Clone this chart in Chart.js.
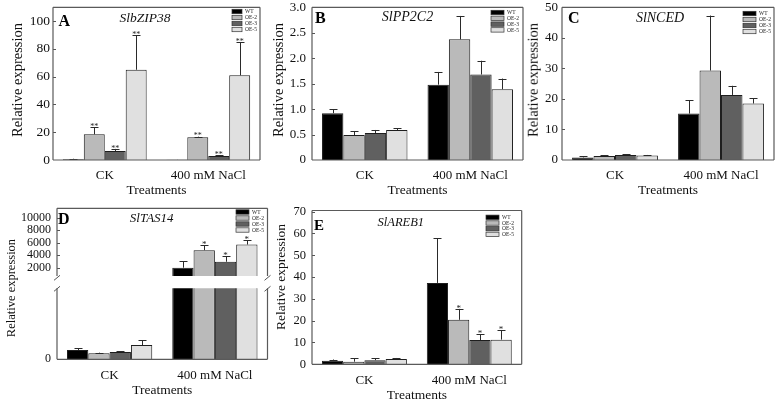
<!DOCTYPE html>
<html><head><meta charset="utf-8">
<script src="https://cdn.jsdelivr.net/npm/chart.js@4"></script>
<style>
html,body{margin:0;padding:0;background:#fff;}
#wrap{position:relative;width:779px;height:403px;overflow:hidden;background:#fff;}
canvas{position:absolute;}
.yt{position:absolute;transform:translate(-50%,-50%) rotate(-90deg);white-space:nowrap;font-family:'Liberation Serif','Times New Roman',serif;line-height:1;color:#111;}
</style></head><body><div id="wrap"></div>
<script>
// ---------- data ----------
const categories = ['CK', '400 mM NaCl'];
const seriesNames = ['WT', 'OE-2', 'OE-3', 'OE-5'];

// A  SlbZIP38
const A_ticks = [0, 20, 40, 60, 80, 100];
const A_mean = [[0.5, 0.2], [18.5, 16.3], [6.5, 2.8], [65, 61]];
const A_err  = [[0.4, 0.1], [5, 0.5], [1.5, 0.7], [25, 24]];
const A_sig  = [['', ''], ['**', '**'], ['**', '**'], ['**', '**']];

// B  SlPP2C2
const B_ticks = [0, 0.5, 1.0, 1.5, 2.0, 2.5, 3.0];
const B_mean = [[0.92, 1.48], [0.49, 2.37], [0.53, 1.68], [0.59, 1.39]];
const B_err  = [[0.08, 0.25], [0.08, 0.46], [0.06, 0.27], [0.03, 0.21]];
const B_sig  = [['', ''], ['', ''], ['', ''], ['', '']];

// C  SlNCED
const C_ticks = [0, 10, 20, 30, 40, 50];
const C_mean = [[0.85, 15.2], [1.3, 29.3], [1.6, 21.3], [1.5, 18.5]];
const C_err  = [[0.3, 4.4], [0.3, 18], [0.25, 3.0], [0.15, 1.8]];
const C_sig  = [['', ''], ['', ''], ['', ''], ['', '']];

// D  SlTAS14 (broken axis)
const D_ticksUpper = [2000, 4000, 6000, 8000, 10000];
const D_ticksLower = [0];
const D_mean = [[0.98, 2000], [0.63, 4800], [0.77, 2950], [1.51, 5700]];
const D_err  = [[0.21, 1050], [0.07, 830], [0.08, 900], [0.5, 700]];
const D_sig  = [['', ''], ['', '*'], ['', '*'], ['', '*']];

// E  SlAREB1
const E_ticks = [0, 10, 20, 30, 40, 50, 60, 70];
const E_mean = [[1.6, 37.3], [1.2, 20.4], [1.9, 11.1], [2.4, 11.3]];
const E_err  = [[0.6, 20.4], [1.5, 5.0], [0.8, 2.6], [0.5, 4.4]];
const E_sig  = [['', ''], ['', '*'], ['', '*'], ['', '*']];

// ---------- style ----------
const FONT = "'Liberation Serif','Times New Roman',serif";
const seriesFill = ['#000000', '#bababa', '#606060', '#e0e0e0'];
const wrap = document.getElementById('wrap');

const deco = {
  id: 'deco',
  afterDatasetsDraw(chart, args, o) {
    const ca = chart.chartArea, ctx = chart.ctx, ys = chart.scales.y;
    ctx.save();
    ctx.beginPath(); ctx.rect(ca.left, ca.top, ca.right - ca.left, ca.bottom - ca.top); ctx.clip();
    ctx.strokeStyle = '#2a2a2a'; ctx.lineWidth = 1; ctx.fillStyle = '#222';
    ctx.font = o.starSize + 'px ' + FONT; ctx.textAlign = 'center'; ctx.textBaseline = 'alphabetic';
    chart.data.datasets.forEach((ds, i) => {
      const meta = chart.getDatasetMeta(i);
      meta.data.forEach((el, j) => {
        const m = ds.data[j], e = o.err[i][j];
        const y0 = ys.getPixelForValue(m), y1 = ys.getPixelForValue(m + e);
        const x = Math.round(el.x) + 0.5;
        ctx.beginPath(); ctx.moveTo(x, y0); ctx.lineTo(x, y1);
        ctx.moveTo(x - 4, Math.round(y1) + 0.5); ctx.lineTo(x + 4, Math.round(y1) + 0.5); ctx.stroke();
        const s = o.sig[i][j];
        if (s) ctx.fillText(s, el.x, y1 + 1.8);
      });
    });
    ctx.restore();
  },
  afterDraw(chart, args, o) {
    const ca = chart.chartArea, ctx = chart.ctx, ys = chart.scales.y;
    const ox = o.off.x, oy = o.off.y;
    ctx.save();
    // inward ticks
    ctx.strokeStyle = '#555'; ctx.lineWidth = 1;
    ys.ticks.forEach(t => {
      const y = Math.round(ys.getPixelForValue(t.value)) + 0.5;
      if (y > ca.top + 1 && y < ca.bottom - 1) {
        ctx.beginPath(); ctx.moveTo(ca.left, y); ctx.lineTo(ca.left + 3, y); ctx.stroke();
      }
    });
    // frame
    ctx.strokeStyle = '#5a5a5a'; ctx.lineWidth = 1.2;
    const f = o.frame;
    ctx.beginPath();
    if (f.top) { ctx.moveTo(ca.left, ca.top); ctx.lineTo(ca.right, ca.top); }
    if (f.bottom) { ctx.moveTo(ca.left, ca.bottom); ctx.lineTo(ca.right, ca.bottom); }
    if (f.left) { ctx.moveTo(ca.left, ca.top); ctx.lineTo(ca.left, ca.bottom); }
    if (f.right) { ctx.moveTo(ca.right, ca.top); ctx.lineTo(ca.right, ca.bottom); }
    ctx.stroke();
    // break marks
    if (o.breaks) {
      ctx.lineWidth = 1; ctx.strokeStyle = '#555';
      o.breaks.forEach(b => {
        ctx.beginPath(); ctx.moveTo(b.x - ox - 3, b.y - oy + 2.5); ctx.lineTo(b.x - ox + 3, b.y - oy - 2.5); ctx.stroke();
      });
    }
    // legend
    if (o.legend) {
      const L = o.legend;
      ctx.font = L.font + 'px ' + FONT; ctx.textAlign = 'left'; ctx.textBaseline = 'middle';
      chart.data.datasets.forEach((ds, i) => {
        const y = L.y0 + i * L.dy - oy, x = L.x - ox;
        ctx.fillStyle = ds.backgroundColor;
        ctx.fillRect(x, y - 2.2, L.w, 4.4);
        ctx.strokeStyle = '#333'; ctx.lineWidth = 0.7; ctx.strokeRect(x, y - 2.2, L.w, 4.4);
        ctx.fillStyle = '#222'; ctx.fillText(ds.label, x + L.w + 3, y + 0.3);
      });
    }
    // panel letter & gene name
    if (o.letter) {
      ctx.fillStyle = '#000'; ctx.textBaseline = 'alphabetic'; ctx.textAlign = 'left';
      ctx.font = 'bold ' + o.letter.size + 'px ' + FONT;
      ctx.fillText(o.letter.text, o.letter.x - ox, o.letter.y - oy);
    }
    if (o.gene) {
      ctx.fillStyle = '#111'; ctx.textBaseline = 'alphabetic'; ctx.textAlign = 'center';
      ctx.font = 'italic ' + o.gene.size + 'px ' + FONT;
      ctx.fillText(o.gene.text, o.gene.x - ox, o.gene.y - oy);
    }
    ctx.restore();
  }
};

function zeroPad(s) { s.paddingTop = 0; s.paddingBottom = 0; s.paddingLeft = 0; s.paddingRight = 0; }

function build(p) {
  const cl = Math.floor(p.plot.l - p.yw);
  const ct = Math.floor(p.plot.t - p.pt);
  const cr = Math.ceil(p.plot.r + 3);
  const cb = Math.ceil(p.plot.b + (p.showX ? 40 : 0));
  const W = cr - cl, H = cb - ct;
  const cv = document.createElement('canvas');
  cv.width = W; cv.height = H;
  cv.style.left = cl + 'px'; cv.style.top = ct + 'px';
  cv.style.width = W + 'px'; cv.style.height = H + 'px';
  wrap.appendChild(cv);
  const yw = p.plot.l - cl;
  const xh = cb - p.plot.b;
  new Chart(cv, {
    type: 'bar',
    data: {
      labels: categories,
      datasets: seriesNames.map((n, i) => ({
        label: n, data: p.mean[i], backgroundColor: seriesFill[i],
        borderColor: '#1e1e1e', borderWidth: 1, categoryPercentage: 0.81, barPercentage: 1, clip: 0
      }))
    },
    options: {
      responsive: false, animation: false, events: [], devicePixelRatio: 1,
      layout: { autoPadding: false, padding: { top: p.plot.t - ct, right: cr - p.plot.r, bottom: p.showX ? 0 : xh, left: 0 } },
      plugins: {
        legend: { display: false }, tooltip: { enabled: false },
        deco: { err: p.err, sig: p.sig, starSize: p.starSize || 9, off: { x: cl, y: ct }, frame: p.frame,
                legend: p.legend, letter: p.letter, gene: p.gene, breaks: p.breaks }
      },
      scales: {
        x: {
          display: p.showX,
          afterFit: s => { s.height = xh; zeroPad(s); },
          grid: { display: false, drawTicks: false }, border: { display: false },
          ticks: { padding: 8, font: { size: 13, family: FONT }, color: '#111', maxRotation: 0, autoSkip: false },
          title: { display: true, text: 'Treatments', font: { size: 13.5, family: FONT }, color: '#111', padding: { top: 0, bottom: 1 } }
        },
        y: {
          min: p.min, max: p.max,
          afterBuildTicks: s => { s.ticks = p.ticks.map(v => ({ value: v })); },
          afterFit: s => { s.width = yw; zeroPad(s); },
          grid: { display: false, drawTicks: false }, border: { display: false },
          ticks: { padding: p.tickPad, font: { size: p.tickSize, family: FONT, lineHeight: 1 }, color: '#111',
                   autoSkip: false, callback: p.fmt || (v => String(v)) }
        }
      }
    },
    plugins: [deco]
  });
}

const full = { top: true, bottom: true, left: true, right: true };

build({ plot: { l: 53, t: 7.3, r: 260, b: 160 }, yw: 53, pt: 8, showX: true, min: 0, max: 110, ticks: A_ticks,
  mean: A_mean, err: A_err, sig: A_sig, tickPad: 3, tickSize: 13.5, frame: full, starSize: 8,
  legend: { x: 232, y0: 11.5, dy: 6, w: 10, font: 5.5 },
  letter: { text: 'A', x: 58.5, y: 26, size: 16 }, gene: { text: 'SlbZIP38', x: 145, y: 21.5, size: 13.5 } });

build({ plot: { l: 312, t: 7.3, r: 523, b: 160 }, yw: 40, pt: 8, showX: true, min: 0, max: 3.0, ticks: B_ticks,
  mean: B_mean, err: B_err, sig: B_sig, tickPad: 6, tickSize: 13, frame: full,
  fmt: v => (v === 0 ? '0' : v.toFixed(1)),
  legend: { x: 491, y0: 12.5, dy: 5.8, w: 13, font: 5.5 },
  letter: { text: 'B', x: 315, y: 23, size: 16 }, gene: { text: 'SlPP2C2', x: 407.5, y: 20.5, size: 14 } });

build({ plot: { l: 562, t: 7.3, r: 774, b: 160 }, yw: 40, pt: 8, showX: true, min: 0, max: 50, ticks: C_ticks,
  mean: C_mean, err: C_err, sig: C_sig, tickPad: 4, tickSize: 13, frame: full,
  legend: { x: 743, y0: 13.5, dy: 6, w: 13, font: 5.5 },
  letter: { text: 'C', x: 568, y: 23, size: 16 }, gene: { text: 'SlNCED', x: 660, y: 21.5, size: 14 } });

// D upper segment
build({ plot: { l: 57, t: 208.3, r: 267.5, b: 276 }, yw: 57, pt: 8, showX: false, min: 670, max: 11500, ticks: D_ticksUpper,
  mean: D_mean, err: D_err, sig: D_sig, tickPad: 6, tickSize: 12, frame: { top: true, bottom: false, left: true, right: true },
  legend: { x: 236, y0: 212, dy: 6, w: 13, font: 5.5 },
  letter: { text: 'D', x: 58, y: 224, size: 16 }, gene: { text: 'SlTAS14', x: 151.7, y: 222, size: 13 } });

// D lower segment
build({ plot: { l: 57, t: 288.3, r: 267.5, b: 359.3 }, yw: 57, pt: 16, showX: true, min: 0, max: 7.5, ticks: D_ticksLower,
  mean: D_mean, err: D_err, sig: D_sig, tickPad: 6, tickSize: 12, frame: { top: false, bottom: true, left: true, right: true },
  breaks: [{ x: 57, y: 277.8 }, { x: 57, y: 288.8 }, { x: 267.5, y: 277.8 }, { x: 267.5, y: 288.8 }] });

build({ plot: { l: 312, t: 210.5, r: 521.7, b: 364.3 }, yw: 40, pt: 8, showX: true, min: 0, max: 70.5, ticks: E_ticks,
  mean: E_mean, err: E_err, sig: E_sig, tickPad: 6, tickSize: 12.5, frame: full,
  legend: { x: 486, y0: 217.3, dy: 5.7, w: 13, font: 5.5 },
  letter: { text: 'E', x: 314, y: 229.5, size: 15 }, gene: { text: 'SlAREB1', x: 400.8, y: 226, size: 12.5 } });

// y-axis titles
const yTitles = [
  { x: 16.7, y: 80, s: 14.5 }, { x: 278.3, y: 80, s: 14.5 }, { x: 533.3, y: 80, s: 14.5 },
  { x: 10.5, y: 288.3, s: 12.5 }, { x: 281, y: 277, s: 13.5 }
];
yTitles.forEach(t => {
  const d = document.createElement('div');
  d.className = 'yt'; d.textContent = 'Relative expression';
  d.style.left = t.x + 'px'; d.style.top = t.y + 'px'; d.style.fontSize = t.s + 'px';
  wrap.appendChild(d);
});
</script></body></html>
